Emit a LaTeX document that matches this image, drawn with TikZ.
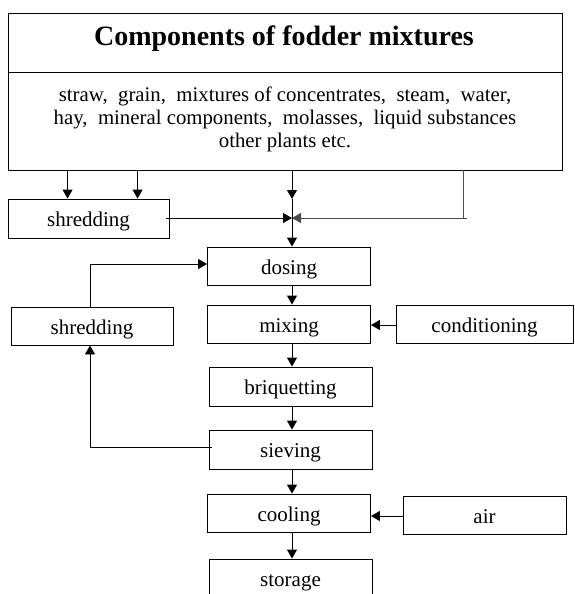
\documentclass[tikz,border=0pt]{standalone}
\usepackage{fontspec}
\setmainfont{Liberation Serif}
\usetikzlibrary{arrows.meta}
\begin{document}
\begin{tikzpicture}[x=1pt,y=-1pt,
  box/.style={draw, line width=0.9pt, inner sep=0pt, minimum width=163pt, minimum height=38pt,
    text height=16pt, text depth=0pt, font=\fontsize{21}{24}\selectfont},
  conn/.style={line width=0.9pt},
  arr/.style={line width=0.9pt, -{Triangle[length=9pt,width=10pt]}}]
\useasboundingbox (0,0) rectangle (574,594);
\clip (0,0) rectangle (574,594);
% top box
\node[draw, line width=0.9pt, inner sep=0pt, minimum width=554pt, minimum height=157pt] (top) at (285,91.5) {};
\draw[conn] (top.west |- 0,72.5) -- (top.east |- 0,72.5);
\node[font=\fontsize{28}{32}\selectfont\bfseries, anchor=base] (title) at (284,46) {Components of fodder mixtures};
\node[font=\fontsize{20.8}{23}\selectfont, align=center] (body) at (285,119)
  {straw,\ \ grain,\ \ mixtures of concentrates,\ \ steam,\ \ water,\\
   hay,\ \ mineral components,\ \ molasses,\ \ liquid substances\\
   other plants etc.};
% boxes
\node[box, minimum width=161pt, minimum height=39pt] (shredA) at (88.5,218.5) {shredding};
\node[box] (dosing) at (289,266) {dosing};
\node[box, minimum width=162pt] (shredB) at (92,326) {shredding};
\node[box] (mixing) at (289,324) {mixing};
\node[box, minimum width=177pt] (cond) at (484.5,324) {conditioning};
\node[box, minimum height=39pt] (briq) at (290.5,386.5) {briquetting};
\node[box, minimum height=39pt] (siev) at (290.5,449.5) {sieving};
\node[box] (cool) at (289,513) {cooling};
\node[box] (air) at (484.5,515) {air};
\node[box] (stor) at (290.5,578) {storage};
% connectors from top box
\draw[arr] ([xshift=60pt]top.south west) -- ([xshift=60pt]shredA.north west);
\draw[arr] ([xshift=130pt]top.south west) -- ([xshift=130pt]shredA.north west);
\coordinate (junc) at (292,218);
\coordinate (mid) at (292,199);
\draw[arr] (top.south -| junc) -- (mid);
\draw[conn] (mid) -- (junc);
\draw[arr] ([xshift=-3pt]shredA.east |- junc) -- (junc);
\coordinate (rc) at (463,218);
\draw[conn, black!70] (top.south -| rc) -- (rc) -- ++(4,0);
\draw[arr, black!70] (rc) -- (junc);
\draw[arr] (junc) -- (dosing.north -| junc);
% main chain
\coordinate (cx) at (292,0);
\draw[arr] (dosing.south -| cx) -- (mixing.north -| cx);
\draw[arr] (mixing.south -| cx) -- (briq.north -| cx);
\draw[arr] (briq.south -| cx) -- (siev.north -| cx);
\draw[arr] (siev.south -| cx) -- (cool.north -| cx);
\draw[arr] (cool.south -| cx) -- (stor.north -| cx);
\draw[arr] ([yshift=-1pt]cond.west) -- ([yshift=-1pt]mixing.east);
\coordinate (airin) at ([yshift=-1pt]air.west);
\draw[arr] (airin) -- (cool.east |- airin);
% loop
\coordinate (lx) at (90,0);
\draw[arr] ([xshift=3pt,yshift=2.5pt]siev.west) -| (shredB.south -| lx);
\draw[arr] (shredB.north -| lx) |- ([yshift=2pt]dosing.west);
\end{tikzpicture}
\end{document}
